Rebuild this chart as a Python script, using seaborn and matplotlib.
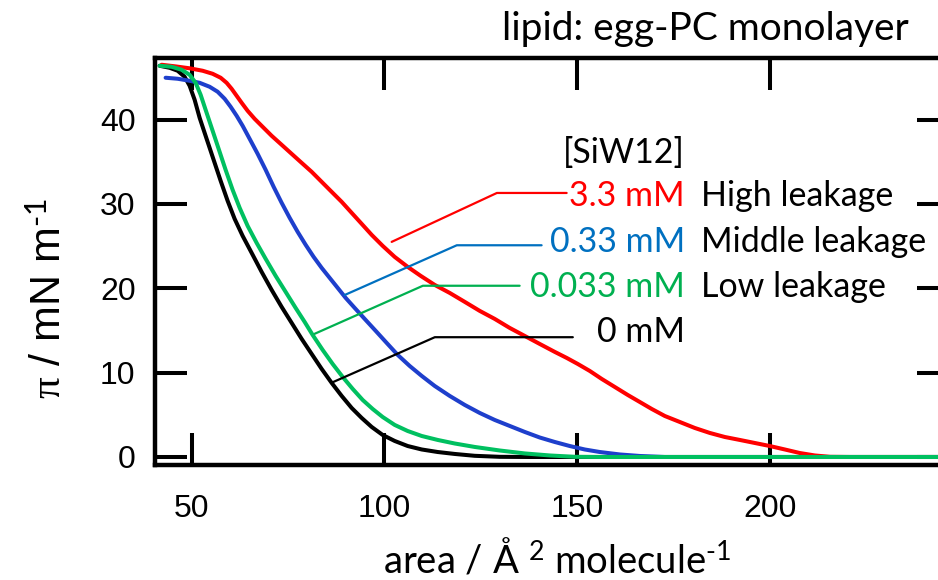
import matplotlib
matplotlib.use("Agg")
import matplotlib.pyplot as plt
import numpy as np
import pandas as pd
import seaborn as sns

# Surface pressure - area isotherms of an egg-PC monolayer at several SiW12 concentrations
area_0mM = [41.70, 44.29, 46.37, 48.18, 49.48, 50.78, 52.08, 53.89, 55.71, 57.53, 59.34,
            61.16, 63.24, 65.57, 68.17, 70.76, 73.36, 75.95, 78.55, 81.14, 83.74, 86.34,
            88.93, 91.53, 94.12, 96.72, 99.57, 102.69, 106.06, 109.70, 113.85, 118.26,
            123.45, 129.94, 137.72, 246.5]
pi_0mM = [46.38, 46.14, 45.79, 45.08, 44.01, 42.35, 40.21, 37.72, 35.23, 32.74, 30.37,
          28.23, 26.21, 24.20, 21.94, 19.81, 17.79, 15.90, 14.00, 12.22, 10.44, 8.78,
          7.24, 5.81, 4.63, 3.56, 2.61, 1.90, 1.30, 0.89, 0.59, 0.36,
          0.14, 0.02, 0.0, 0.0]

area_0033mM = [41.70, 44.81, 47.40, 49.48, 51.04, 52.34, 53.63, 55.19, 57.01, 58.82, 60.64,
               62.46, 64.53, 66.87, 69.21, 71.80, 74.40, 76.99, 79.33, 81.40, 84.00, 86.59,
               89.19, 91.79, 94.38, 96.98, 99.57, 102.69, 106.06, 109.70, 113.85, 118.26,
               123.45, 129.94, 136.43, 142.92, 149.41, 155.90, 246.5]
pi_0033mM = [46.38, 46.26, 45.91, 45.31, 44.36, 42.94, 41.16, 39.03, 36.53, 34.04, 31.67,
             29.54, 27.40, 25.38, 23.49, 21.47, 19.57, 17.67, 16.01, 14.47, 12.69, 11.03,
             9.49, 8.07, 6.76, 5.69, 4.74, 3.80, 3.08, 2.49, 2.02, 1.60,
             1.19, 0.77, 0.42, 0.18, 0.02, 0.0, 0.0]

area_033mM = [43.25, 46.37, 49.48, 52.08, 54.67, 56.75, 58.56, 60.12, 61.68, 63.24, 65.05,
              67.13, 69.21, 71.28, 73.36, 75.44, 77.51, 79.59, 81.66, 83.74, 85.82, 87.89,
              89.97, 92.31, 94.90, 97.76, 100.61, 103.47, 106.58, 109.70, 113.07, 116.96,
              120.86, 124.75, 128.64, 132.53, 136.43, 140.32, 144.21, 148.11, 152.00,
              155.90, 161.09, 166.28, 172.77, 246.5]
pi_033mM = [44.96, 44.84, 44.60, 44.36, 43.89, 43.30, 42.47, 41.52, 40.45, 39.26, 37.72,
            35.94, 34.04, 32.03, 30.13, 28.35, 26.69, 25.15, 23.72, 22.42, 21.23, 20.05,
            18.86, 17.67, 16.37, 14.95, 13.52, 12.10, 10.79, 9.61, 8.42, 7.24,
            6.17, 5.22, 4.39, 3.68, 2.97, 2.31, 1.78, 1.30, 0.89,
            0.59, 0.30, 0.12, 0.0, 0.0]

area_33mM = [42.21, 45.59, 49.48, 52.85, 55.45, 57.53, 59.08, 60.38, 61.68, 62.98, 64.53,
             66.35, 68.43, 70.76, 73.36, 75.95, 78.55, 81.14, 83.74, 86.34, 88.93, 91.53,
             94.12, 96.72, 99.57, 102.69, 106.06, 109.44, 113.07, 116.96, 120.86, 124.75,
             128.64, 132.53, 136.43, 140.32, 144.21, 147.33, 150.18, 153.30, 156.41,
             159.79, 163.16, 166.28, 169.39, 172.77, 176.66, 180.55, 184.44, 188.34,
             192.23, 196.12, 200.01, 203.91, 207.80, 211.69, 215.59, 220.78, 246.5]
pi_33mM = [46.50, 46.32, 46.08, 45.79, 45.43, 44.96, 44.36, 43.65, 42.82, 41.99, 41.04,
           40.09, 39.14, 38.08, 37.01, 35.94, 34.87, 33.81, 32.62, 31.43, 30.25, 28.94,
           27.64, 26.33, 25.03, 23.72, 22.54, 21.47, 20.40, 19.45, 18.39, 17.32,
           16.37, 15.30, 14.35, 13.40, 12.46, 11.74, 11.03, 10.20, 9.25,
           8.30, 7.35, 6.52, 5.69, 4.86, 4.15, 3.44, 2.85, 2.37,
           2.02, 1.66, 1.30, 0.89, 0.47, 0.18, 0.02, 0.0, 0.0]

conc_labels = ["0 mM", "3.3 mM", "0.33 mM", "0.033 mM"]
leak_labels = ["", "High leakage", "Middle leakage", "Low leakage"]
x_ticks = [50, 100, 150, 200]
y_ticks = [0, 10, 20, 30, 40]

curve_colors = {"0 mM": "#000000", "3.3 mM": "#FF0000",
                "0.33 mM": "#1E3FCC", "0.033 mM": "#00C060"}
label_colors = {"0 mM": "#000000", "3.3 mM": "#FF0000",
                "0.33 mM": "#0070C0", "0.033 mM": "#00B050"}

series = {"0 mM": (area_0mM, pi_0mM), "3.3 mM": (area_33mM, pi_33mM),
          "0.33 mM": (area_033mM, pi_033mM), "0.033 mM": (area_0033mM, pi_0033mM)}
df = pd.concat([pd.DataFrame({"area": a, "pi": p, "conc": c})
                for c, (a, p) in series.items()], ignore_index=True)

sns.set_theme(style="ticks")
plt.rcParams["font.family"] = ["Liberation Sans", "DejaVu Sans"]
plt.rcParams["mathtext.fontset"] = "custom"
plt.rcParams["mathtext.rm"] = "Lato"
plt.rcParams["mathtext.it"] = "Liberation Serif"

W, H = 938, 580
fig = plt.figure(figsize=(W / 100, H / 100), dpi=100)
ax = fig.add_axes([155 / W, 1 - 465 / H, (949 - 155) / W, (465 - 58) / H])

sns.lineplot(data=df, x="area", y="pi", hue="conc", hue_order=conc_labels,
             palette=curve_colors, linewidth=2.9, legend=False, ax=ax,
             estimator=None, sort=False)
for ln in ax.lines:
    ln.set_solid_joinstyle("round")
    ln.set_solid_capstyle("round")

ax.set_xlim(40.5, 246.5)
ax.set_ylim(-0.95, 47.3)
ax.set_xticks(x_ticks)
ax.set_yticks(y_ticks)
ax.set_xlabel("")
ax.set_ylabel("")
for s in ax.spines.values():
    s.set_linewidth(3.2)
    s.set_color("black")
ax.tick_params(direction="in", length=23, width=2.9, top=True, right=True,
               labelsize=23, colors="black")
ax.tick_params(axis="x", pad=21)
ax.tick_params(axis="y", pad=14)

# leader lines from each curve to its label
leaders = {
    "3.3 mM": [(101.9, 25.5), (129.2, 31.3), (147.3, 31.3)],
    "0.33 mM": [(89.7, 19.2), (118.8, 25.1), (140.8, 25.1)],
    "0.033 mM": [(81.9, 14.6), (110.0, 20.3), (135.1, 20.3)],
    "0 mM": [(86.3, 8.8), (113.1, 14.2), (148.9, 14.2)],
}
for c, pts in leaders.items():
    xs, ys = zip(*pts)
    ax.plot(xs, ys, color=label_colors[c], linewidth=1.6)

text_font = ["Lato", "DejaVu Sans"]
fs = 24.5
baselines = {"3.3 mM": 29.7, "0.33 mM": 24.3, "0.033 mM": 19.0, "0 mM": 13.6}
for c, leak in zip(conc_labels, leak_labels):
    ax.text(178.0, baselines[c], c, ha="right", va="baseline",
            color=label_colors[c], fontsize=fs, family=text_font)
    if leak:
        ax.text(182.2, baselines[c], leak, ha="left", va="baseline",
                color="black", fontsize=fs, family=text_font)
ax.text(178.0, 34.9, "[SiW12]", ha="right", va="baseline", color="black",
        fontsize=fs, family=text_font)

fig.text(502 / W, 1 - 40 / H, "lipid: egg-PC monolayer", ha="left", va="baseline",
         fontsize=28, family=text_font, color="black")
fig.text(557 / W, 1 - 572 / H, r"area / Å $^{2}$ molecule$^{\text{-1}}$", ha="center",
         va="baseline", fontsize=27.5, family=text_font, color="black")
fig.text(50 / W, 1 - 298 / H, r"$\pi$ / mN m$^{\text{-1}}$", rotation=90, ha="center",
         va="center", fontsize=31, color="black")

fig.savefig("out.png", dpi=100)
